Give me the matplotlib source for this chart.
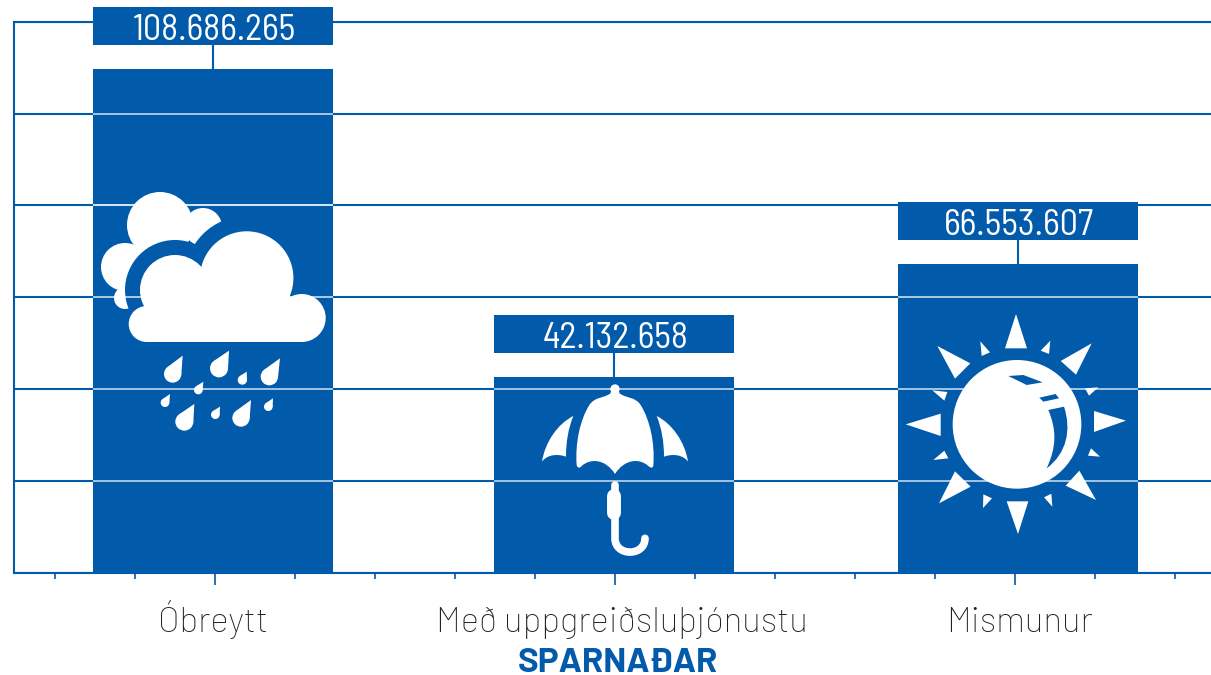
import matplotlib
matplotlib.use('Agg')
import matplotlib.pyplot as plt
from matplotlib.patches import Circle, Polygon, PathPatch, Rectangle
from matplotlib.path import Path
from matplotlib.transforms import Affine2D, ScaledTranslation
import numpy as np

# data
flokkar = ['Óbreytt', 'Með uppgreiðsluþjónustu', 'Mismunur']
gildi = [108686265, 42132658, 66553607]
gildi_txt = ['108.686.265', '42.132.658', '66.553.607']
titill = 'SPARNAÐAR'

blar = '#025AAB'
W, H = 1211, 675
px_per_unit = 4.63e-6  # pixels per kr

fig = plt.figure(figsize=(W / 100, H / 100), dpi=100)
ax = fig.add_axes([14 / W, 1 - 572.5 / H, (W - 14) / W, 550.5 / H])
ymax = 550.5 / px_per_unit
ax.set_ylim(0, ymax)
ax.set_xlim((14 - 215) / 400, (W - 215) / 400)

ax.spines['right'].set_visible(False)
for s in ['left', 'bottom', 'top']:
    ax.spines[s].set_color(blar)
    ax.spines[s].set_linewidth(1.5)

grid_y = np.linspace(0, ymax, 7)
ax.set_yticks(grid_y)
ax.tick_params(axis='y', length=0, labelleft=False)
ax.yaxis.grid(True, color=blar, lw=1.5)
ax.set_axisbelow(True)

# x-ticks
ax.set_xticks([0, 1, 2], flokkar)
ax.set_xticks([-0.4, -0.2, 0.2, 0.4, 0.6, 0.8, 1.2, 1.4, 1.6, 1.8, 2.2, 2.4], minor=True)
ax.tick_params(axis='x', which='major', length=8.6, width=1.2, color=blar, pad=34,
               labelsize=25, labelcolor='#222222')
ax.tick_params(axis='x', which='minor', length=4, width=1.2, color=blar)
skekkja = [-2, 7, 5]
for lab, dx in zip(ax.get_xticklabels(), skekkja):
    lab.set_fontfamily(['Barlow', 'Lato', 'DejaVu Sans'])
    lab.set_fontweight('light')
    lab.set_va('baseline')
    lab.set_transform(lab.get_transform() + ScaledTranslation(dx / 100, 0, fig.dpi_scale_trans))

ax.set_xlabel(titill, color=blar, fontsize=25, fontweight='bold', family=['Barlow', 'Roboto'], va='baseline')
ax.xaxis.set_label_coords((618 - 14) / (W - 14), -(672 - 572.5) / 550.5)

# bars
midjur = [-0.005, 0.9975, 2.0075]
breidd = 0.6
ax.bar(midjur, gildi, width=breidd, color=blar, zorder=2)

# pixel coordinates for the pictures
pt = Affine2D().scale(1, -1).translate(0, H)


def add(p, z=3):
    p.set_transform(pt)
    p.set_clip_on(False)
    p.set_zorder(z)
    ax.add_patch(p)


def hvitt(p, z=3):
    p.set_facecolor('white')
    p.set_edgecolor('none')
    add(p, z)


def zoom_fall(x0, y0):
    return lambda pts: [(x0 + a / 3, y0 + b / 3) for a, b in pts]


# cloud
z = zoom_fall(90, 180)
for c, r in [((160, 225), 33), ((203, 227), 19), ((125, 267), 24), ((125, 298), 11)]:
    hvitt(Circle(c, r))
for c, r in [((175, 290), 50), ((246.7, 278), 62)]:
    add(Circle(c, r, fc=blar, ec='none'), 3.2)
for c, r in [((175, 290), 35), ((246.7, 278), 46.7), ((301.7, 318), 24), ((146.7, 324), 18)]:
    hvitt(Circle(c, r), 3.4)
hvitt(Rectangle((146, 305), 156, 37), 3.4)
hvitt(Polygon([(190, 270), (290, 270), (290, 310), (190, 310)]), 3.4)

dropar = [((278, 527), (248, 582), 26), ((417, 512), (387, 565), 27), ((470, 575), (457, 600), 14),
          ((570, 535), (538, 590), 26), ((340, 605), (325, 630), 13), ((240, 642), (225, 668), 13),
          ((313, 672), (283, 725), 27), ((390, 680), (376, 704), 13), ((483, 660), (453, 714), 26),
          ((549, 655), (535, 680), 13)]
for tip, c, r in dropar:
    tip, c = z([tip, c])
    r = r / 3
    d = np.hypot(tip[0] - c[0], tip[1] - c[1])
    a = np.arctan2(tip[1] - c[1], tip[0] - c[0])
    b = np.arccos(r / d)
    t1 = (c[0] + r * np.cos(a + b), c[1] + r * np.sin(a + b))
    t2 = (c[0] + r * np.cos(a - b), c[1] + r * np.sin(a - b))
    hvitt(Circle(c, r))
    hvitt(Polygon([tip, t1, t2]))

# umbrella
z = zoom_fall(490, 370)
C = Path.CURVE4
hvitt(Circle(z([(375, 57)])[0], 14 / 3))
hvitt(Polygon(z([(365, 57), (385, 57), (392, 80), (358, 80)])))
tjald = [(358, 72), (340, 85), (315, 80), (298, 105), (270, 150), (255, 220), (260, 285),
         (262, 295), (270, 295), (275, 288), (300, 265), (345, 265), (375, 312),
         (405, 265), (450, 265), (475, 288), (482, 295), (490, 295), (490, 285),
         (495, 220), (480, 150), (452, 105), (435, 80), (410, 85), (392, 72), (358, 72)]
hvitt(PathPatch(Path(z(tjald), [Path.MOVETO] + [C] * 24 + [Path.CLOSEPOLY])))
vaengur = [(250, 138), (205, 160), (165, 215), (156, 275), (170, 255), (200, 250), (228, 260),
           (228, 215), (235, 175), (250, 138), (250, 138)]
kodar = [Path.MOVETO] + [C] * 9 + [Path.CLOSEPOLY]
hvitt(PathPatch(Path(z(vaengur), kodar)))
hvitt(PathPatch(Path(z([(750 - a, b) for a, b in vaengur]), kodar)))
handfang = [(375, 345), (375, 505), (375, 560), (465, 560), (465, 505)]
add(PathPatch(Path(z(handfang), [Path.MOVETO, Path.LINETO, C, C, C]),
              fc='none', ec='white', lw=5.5, capstyle='round'))
gx = z([(373, 378), (373, 430)])
ax.plot([gx[0][0], gx[1][0]], [gx[0][1], gx[1][1]], color='white', lw=10, solid_capstyle='round',
        transform=pt, clip_on=False, zorder=3)

# sun
z = zoom_fall(890, 300)
hvitt(Circle(z([(381, 373)])[0], 193 / 3))
geislar = [
    [(378, 42), (345, 145), (411, 145)], [(708, 362), (612, 333), (612, 396)],
    [(384, 702), (350, 604), (415, 604)], [(47, 373), (152, 341), (152, 408)],
    [(605, 130), (512, 183), (558, 224)], [(618, 600), (527, 557), (568, 512)],
    [(147, 610), (242, 560), (195, 514)], [(142, 138), (195, 236), (241, 190)],
    [(271, 124), (275, 168), (300, 157)], [(481, 122), (452, 152), (477, 162)],
    [(625, 262), (585, 265), (597, 287)], [(630, 470), (594, 467), (603, 445)],
    [(487, 620), (462, 592), (484, 581)], [(279, 624), (280, 583), (306, 595)],
    [(130, 480), (175, 475), (163, 452)], [(127, 271), (172, 276), (163, 302)],
]
for g in geislar:
    hvitt(Polygon(z(g)))
for g in [[(355, 228), (400, 225), (458, 247), (410, 255)], [(448, 293), (497, 282), (507, 295), (460, 305)]]:
    add(Polygon(z(g), fc=blar, ec='none'), 3.2)
mani = [(475, 330), (522, 320), (522, 320), (522, 320), (545, 390), (530, 460), (470, 505),
        (500, 440), (500, 390), (475, 330), (475, 330)]
add(PathPatch(Path(z(mani), [Path.MOVETO, C, C, C, C, C, C, C, C, C, Path.CLOSEPOLY]), fc=blar, ec='none'), 3.2)

# white grid lines over the bars
for v, alfa in zip(grid_y[1:], [0.75, 0.75, 0.8, 1, 0.75, 0.75]):
    for m, g in zip(midjur, gildi):
        if v < g:
            ax.hlines(v, m - breidd / 2, m + breidd / 2, color='white', lw=1.2, alpha=alfa, zorder=5)

# value boxes
bil = 24 / px_per_unit
kassi = 38 / px_per_unit
for m, g, t in zip(midjur, gildi, gildi_txt):
    ax.vlines(m, g, g + bil, color=blar, lw=1.5, zorder=2, clip_on=False)
    ax.bar(m, kassi, bottom=g + bil, width=breidd, color=blar, zorder=6, clip_on=False)
    ax.text(m + 0.003, g + bil + kassi / 2 - 0.5 / px_per_unit, t, color='white', ha='center', va='center_baseline',
            fontsize=26, family=['Barlow Semi Condensed', 'Barlow Condensed', 'Roboto', 'DejaVu Sans'],
            zorder=7, clip_on=False)

fig.savefig('out.png', dpi=100)
